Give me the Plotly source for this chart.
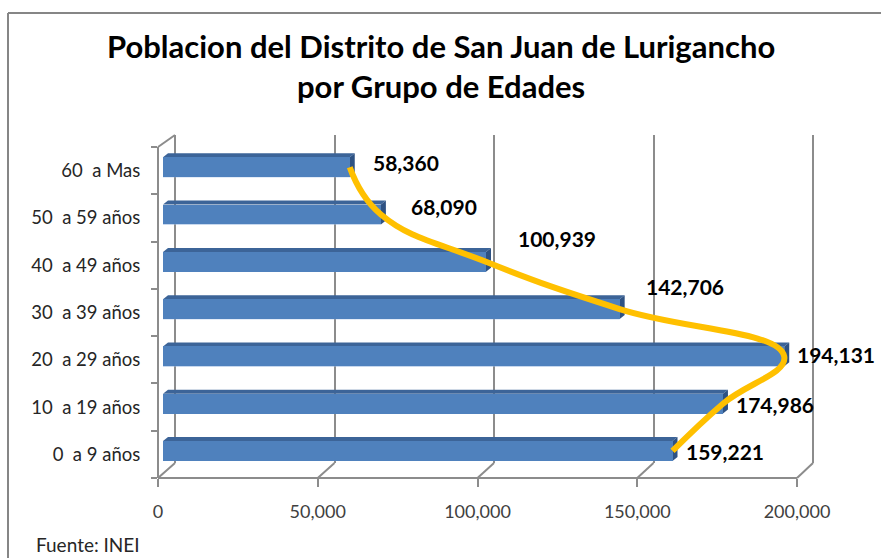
import plotly.graph_objects as go

# ---------------- data ----------------
categories = ["0  a 9 años", "10  a 19 años", "20  a 29 años", "30  a 39 años",
              "40  a 49 años", "50  a 59 años", "60  a Mas"]
population = [159221, 174986, 194131, 142706, 100939, 68090, 58360]
x_ticks = [0, 50000, 100000, 150000, 200000]
title_lines = ["Poblacion del Distrito de San Juan de Lurigancho", "por Grupo de Edades"]
source_text = "Fuente: INEI"

# ---------------- geometry / style ----------------
W, H = 881, 558
L, R, T, B = 150, 51, 135, 80
AW, AH = W - L - R, H - T - B          # plot area size in px
X0, X1 = L, W - R
Y_BOTTOM = H - B                        # 478 px

GRID = "#8c8c8c"
FONT = "Lato"

def x_range(zero_px, px_per_unit):
    return [(X0 - zero_px) / px_per_unit, (X1 - zero_px) / px_per_unit]

def px_to_paper_x(px):
    return (px - L) / AW

def px_to_paper_y(py):
    return (Y_BOTTOM - py) / AH

# axes mappings (3-D look: back wall, bar plane, front floor edge)
back_zero, back_ppu = 175, (813 - 175) / 200000
bar_zero, bar_ppu = 163, 3.2 / 1000
front_zero, front_ppu = 158, (797 - 158) / 200000

front_top_px = 147
back_bottom_px = 463
n = len(categories)
front_dom = [0, px_to_paper_y(front_top_px)]
unit_px = (Y_BOTTOM - front_top_px) / n
bar_shift = 3.4 / unit_px
idx = list(range(n))

half_h = 0.21                      # half height of the bar front face
depth_dx = 5 / bar_ppu             # top face offset (x units)
depth_dy = 4 / unit_px             # top face offset (y units)

label_dx = [11, 11, 11, 24, 30, 28, 21]
label_dy = [-1, -1, 1.5, 23, 23, 8.5, 4.5]

fig = go.Figure()

# back-wall grid subplot (x / y)
fig.add_trace(go.Scatter(x=[None], y=[None], xaxis="x", yaxis="y",
                         showlegend=False, hoverinfo="skip"))

# bars (x2 / y2)
fig.add_trace(go.Bar(x=population, y=idx, orientation="h", base=0, width=2 * half_h,
                     marker=dict(color="#4F81BD", line=dict(width=0)),
                     xaxis="x2", yaxis="y2", showlegend=False, hoverinfo="skip"))

# yellow smooth curve through the bar ends
fig.add_trace(go.Scatter(x=population, y=idx, mode="lines",
                         line=dict(color="#FFC000", width=6, shape="spline", smoothing=1.25),
                         xaxis="x2", yaxis="y2", showlegend=False, hoverinfo="skip"))

# front axes (x3 / y3)
fig.add_trace(go.Scatter(x=[None], y=[None], xaxis="x3", yaxis="y3",
                         showlegend=False, hoverinfo="skip"))

shapes = []
# 3-D faces of the bars
for i, v in zip(idx, population):
    top = i + half_h
    bot = i - half_h
    shapes.append(dict(type="path", xref="x2", yref="y2", layer="below",
                       path=f"M 0,{top} L {v},{top} L {v + depth_dx},{top + depth_dy} "
                            f"L {depth_dx},{top + depth_dy} Z",
                       fillcolor="#3C6498", line=dict(width=0)))
    shapes.append(dict(type="path", xref="x2", yref="y2", layer="below",
                       path=f"M {v},{bot} L {v},{top} L {v + depth_dx},{top + depth_dy} "
                            f"L {v + depth_dx},{bot + depth_dy} Z",
                       fillcolor="#2E5283", line=dict(width=0)))
    shapes.append(dict(type="line", xref="x2", yref="y2", layer="below",
                       x0=0, x1=v, y0=bot + 0.01, y1=bot + 0.01,
                       line=dict(color="#8FB1DE", width=1.2)))

# floor: front edge and slanted depth lines
shapes.append(dict(type="line", xref="x3", yref="paper", x0=0, x1=x_ticks[-1], y0=0, y1=0,
                   line=dict(color=GRID, width=2)))
for v in x_ticks:
    back_px = back_zero + v * back_ppu
    shapes.append(dict(type="line", xref="x3", yref="paper",
                       x0=v, y0=0, x1=(back_px - front_zero) / front_ppu,
                       y1=px_to_paper_y(back_bottom_px),
                       line=dict(color=GRID, width=2)))
# top-left slant of the side wall
shapes.append(dict(type="line", xref="x3", yref="paper",
                   x0=0, y0=front_dom[1], x1=(back_zero - front_zero) / front_ppu, y1=1,
                   line=dict(color=GRID, width=2)))
# chart frame
shapes.append(dict(type="line", xref="paper", yref="paper",
                   x0=px_to_paper_x(8), x1=px_to_paper_x(W + 5),
                   y0=px_to_paper_y(13), y1=px_to_paper_y(13),
                   line=dict(color="#868686", width=2)))
shapes.append(dict(type="line", xref="paper", yref="paper",
                   x0=px_to_paper_x(8), x1=px_to_paper_x(8),
                   y0=px_to_paper_y(13), y1=px_to_paper_y(H + 5),
                   line=dict(color="#868686", width=2)))

annotations = []
for i, v, dx, dy in zip(idx, population, label_dx, label_dy):
    annotations.append(dict(x=v, y=i, xref="x2", yref="y2", text=f"{v:,}",
                            showarrow=False, xanchor="left", yanchor="middle",
                            xshift=dx, yshift=dy,
                            font=dict(family=FONT, size=21, color="#000000", weight="bold")))
for line, py in zip(title_lines, [46, 86]):
    annotations.append(dict(x=px_to_paper_x(440.5), y=px_to_paper_y(py), xref="paper", yref="paper",
                            text=f"<b>{line}</b>", showarrow=False,
                            xanchor="center", yanchor="middle",
                            font=dict(family=FONT, size=31, color="#000000")))
annotations.append(dict(x=px_to_paper_x(34), y=px_to_paper_y(544), xref="paper", yref="paper",
                        text=source_text, showarrow=False, xanchor="left", yanchor="middle",
                        font=dict(family=FONT, size=19, color="#262626")))

fig.update_layout(
    width=W, height=H,
    margin=dict(l=L, r=R, t=T, b=B, pad=0),
    paper_bgcolor="white", plot_bgcolor="rgba(0,0,0,0)",
    font=dict(family=FONT),
    showlegend=False,
    bargap=0,
    xaxis=dict(range=x_range(back_zero, back_ppu), anchor="y", showgrid=True,
               gridcolor=GRID, gridwidth=2, tickvals=x_ticks, showticklabels=False,
               ticks="", zeroline=False, showline=False, fixedrange=True),
    yaxis=dict(domain=[px_to_paper_y(back_bottom_px), 1], range=[0, 1], visible=False,
               anchor="x", fixedrange=True),
    xaxis2=dict(range=x_range(bar_zero, bar_ppu), anchor="y2", visible=False, fixedrange=True),
    yaxis2=dict(domain=front_dom, range=[-0.5 - bar_shift, n - 0.5 - bar_shift],
                anchor="x2", visible=False, fixedrange=True),
    xaxis3=dict(range=x_range(front_zero, front_ppu), overlaying="x2", anchor="y3",
                tickvals=x_ticks, tickformat=",d", ticks="outside", ticklen=8,
                tickcolor=GRID, tickwidth=2, showgrid=False, zeroline=False, showline=False,
                tickfont=dict(family=FONT, size=18, color="#404040"),
                ticklabelstandoff=9, fixedrange=True),
    yaxis3=dict(range=[-0.5, n - 0.5], overlaying="y2", anchor="free",
                position=px_to_paper_x(front_zero),
                tickvals=idx, ticktext=[c.replace("  ", " \u00a0") for c in categories],
                ticks="", showgrid=False, zeroline=False,
                showline=True, linecolor=GRID, linewidth=2,
                minor=dict(tickvals=[k - 0.5 for k in range(n + 1)], ticks="outside",
                           ticklen=6, tickcolor=GRID, tickwidth=2, showgrid=False),
                tickfont=dict(family=FONT, size=18.5, color="#262626"),
                ticklabelstandoff=13, fixedrange=True),
    shapes=shapes,
    annotations=annotations,
)

fig.write_html("out.html")
